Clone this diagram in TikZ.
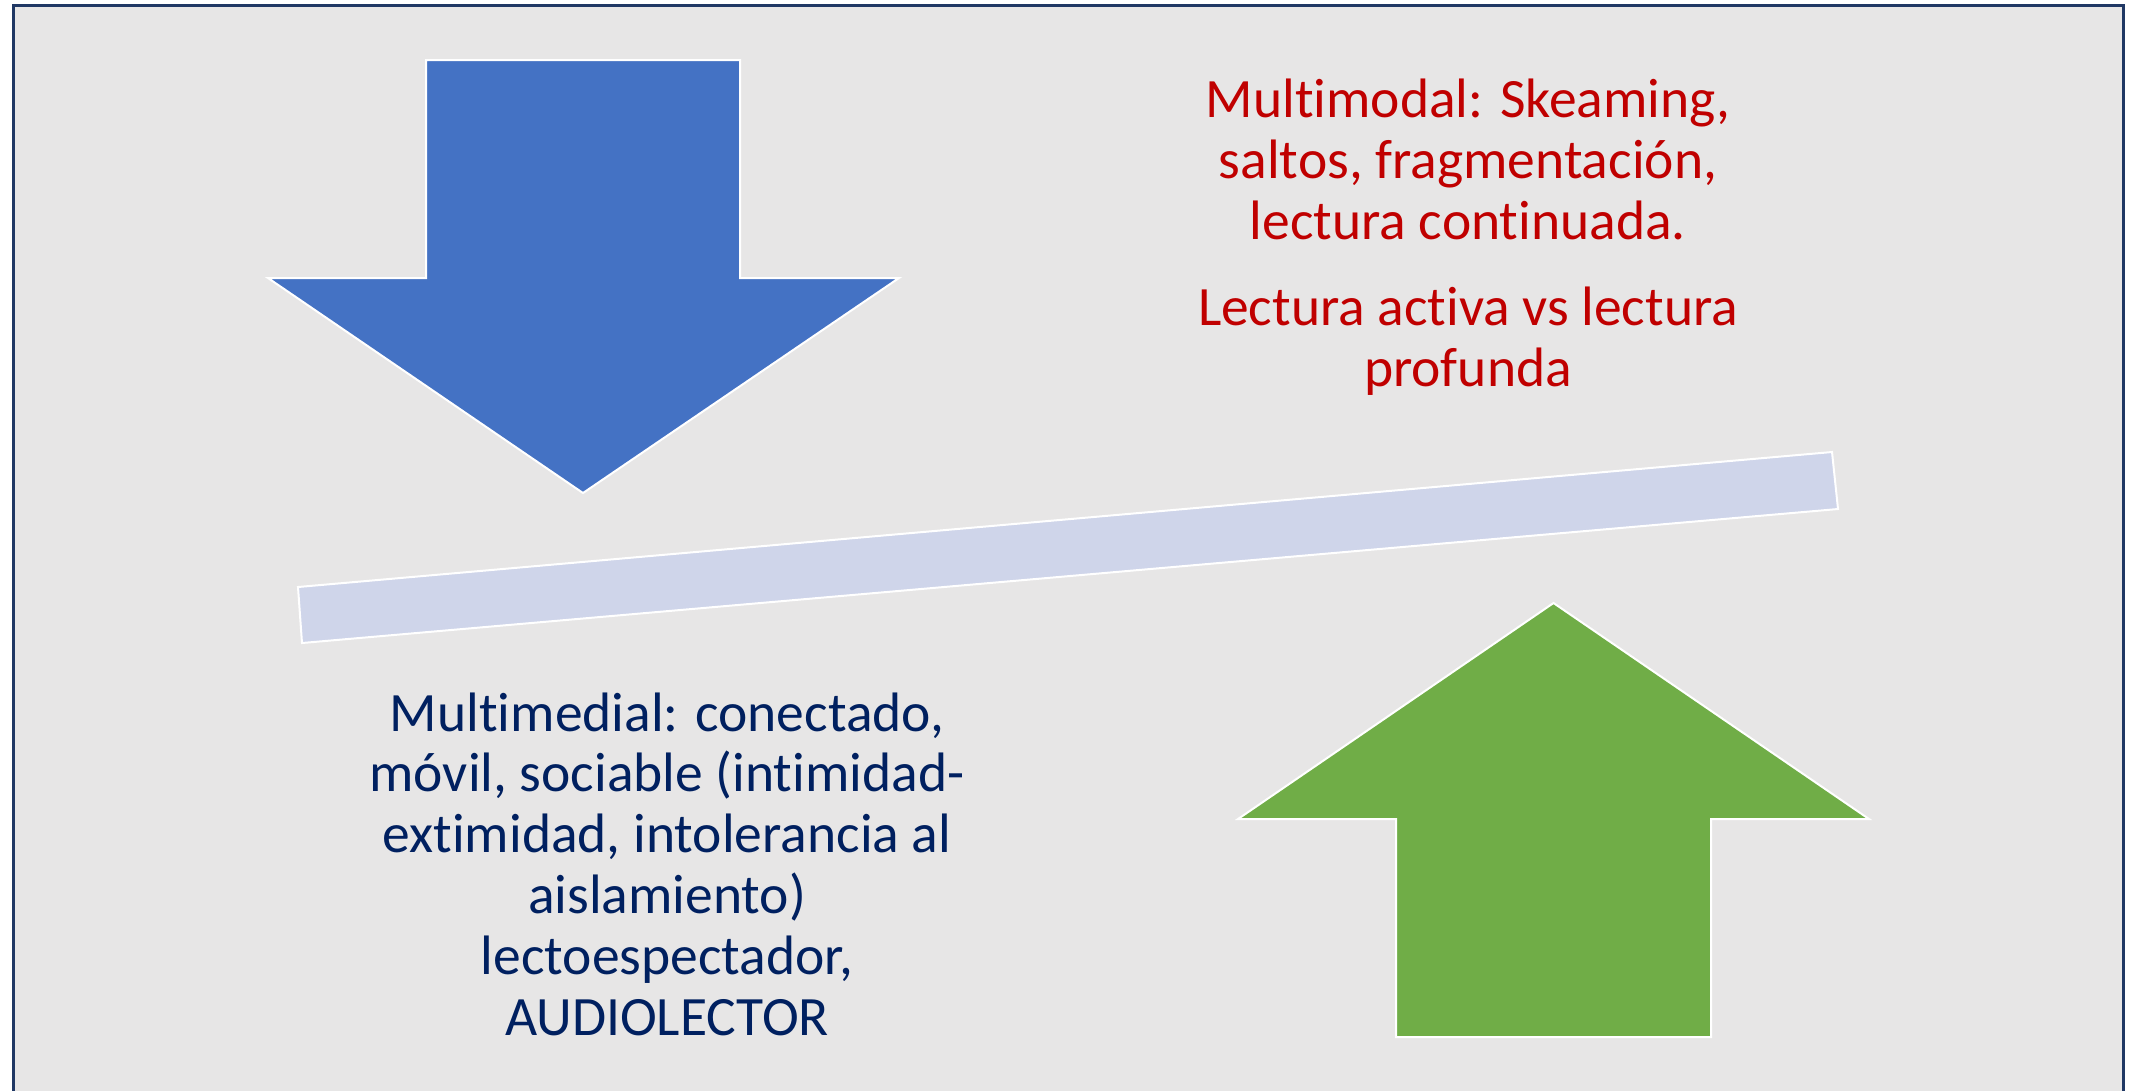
\documentclass[tikz,border=0pt]{standalone}
\usepackage{fontspec}
\setmainfont{Carlito}[Ligatures=NoCommon]
\usepackage{xcolor}
\usetikzlibrary{positioning}

\definecolor{slidebg}{HTML}{E7E6E6}
\definecolor{framenavy}{HTML}{203864}
\definecolor{arrowblue}{HTML}{4472C4}
\definecolor{arrowgreen}{HTML}{70AD47}
\definecolor{barlilac}{HTML}{CFD5EA}
\definecolor{textred}{HTML}{C00000}
\definecolor{textnavy}{HTML}{002060}

\begin{document}
\begin{tikzpicture}[
            % Styles for the slide
            frame/.style={draw=framenavy, line width=0.03cm, fill=slidebg},
            slideshape/.style={draw=white, line width=0.02cm, line join=miter},
            redtxt/.style={align=center, inner sep=0pt, text=textred,
                    font=\fontsize{15.8pt}{17.3pt}\selectfont},
            navytxt/.style={align=center, inner sep=0pt, text=textnavy,
                    font=\fontsize{15.8pt}{17.3pt}\selectfont},
        ]

            \useasboundingbox (0,0) rectangle (21.36,-10.90);
            \fill[white] (0,0) rectangle (21.36,-10.90);
            \clip (0,0) rectangle (21.36,-10.90);

            % === BACKGROUND ===
            \draw[frame] (0.135,-0.05) rectangle (21.23,-11.30);

            % === ARROWS AND BAR ===
            \draw[slideshape, fill=arrowblue] (4.26,-0.60) -- (7.40,-0.60) -- (7.40,-2.78)
            -- (8.99,-2.78) -- (5.83,-4.93) -- (2.68,-2.78) -- (4.26,-2.78) -- cycle;

            \draw[slideshape, fill=arrowgreen] (13.96,-10.37) -- (13.96,-8.19) -- (12.38,-8.19)
            -- (15.535,-6.03) -- (18.69,-8.19) -- (17.11,-8.19) -- (17.11,-10.37) -- cycle;

            \draw[slideshape, fill=barlilac] (2.98,-5.87) -- (18.32,-4.52) -- (18.38,-5.09)
            -- (3.02,-6.43) -- cycle;

            % === TEXTS ===
            % (base anchor sits on the last line)
            \node[redtxt, anchor=base] (modal) at (14.68,-2.39)
            {Multimodal: Skeaming,\\saltos, fragmentación,\\lectura continuada.};
            \node[redtxt, anchor=base] (activa) at (14.68,-3.86)
            {Lectura activa vs lectura\\profunda};

            \node[navytxt, anchor=base] (medial) at (6.67,-10.35)
            {Multimedial: conectado,\\móvil, sociable (intimidad-\\extimidad, intolerancia al\\aislamiento)\\lectoespectador,\\AUDIOLECTOR};

\end{tikzpicture}
\end{document}
